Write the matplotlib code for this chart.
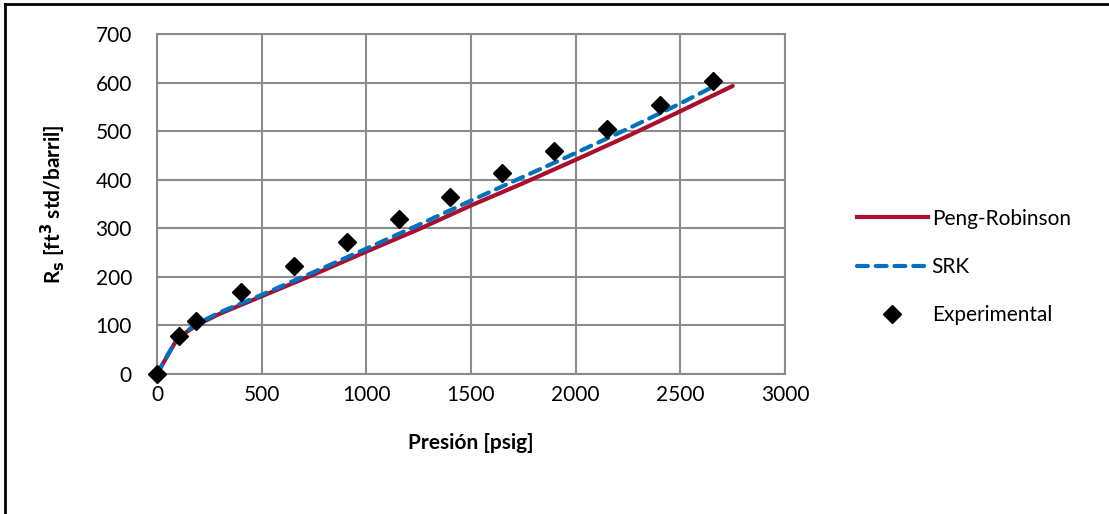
import matplotlib
matplotlib.use("Agg")
import matplotlib.pyplot as plt
from matplotlib.lines import Line2D

plt.rcParams['font.family'] = ['Lato', 'DejaVu Sans']

# Peng-Robinson model
pr_presion = [0, 100, 200, 300, 500, 750, 1000, 1250, 1500, 1750, 2000, 2250, 2500, 2750]
pr_rs = [0, 75, 103, 124, 160, 205, 252, 298, 347, 393, 441, 490, 541, 593]

# SRK model
srk_presion = [0, 100, 200, 300, 500, 750, 1000, 1250, 1500, 1750, 2000, 2250, 2500, 2650]
srk_rs = [0, 77, 105, 127, 163, 210, 258, 307, 357, 406, 455, 505, 557, 590]

# experimental data
exp_presion = [0, 105, 186, 400, 653, 906, 1154, 1402, 1650, 1898, 2150, 2403, 2656]
exp_rs = [0, 78, 109, 168, 222, 271, 320, 365, 413, 460, 505, 554, 604]

fig = plt.figure(figsize=(11.09, 5.14), dpi=100)
ax = fig.add_axes([157 / 1109, 1 - 374 / 514, 628 / 1109, 340 / 514])

grid_color = '#8c8c8c'
srk_dash = (0, (2.6, 1.9))
ax.plot(pr_presion, pr_rs, color='#A8102D', lw=3, solid_capstyle='round', label='Peng-Robinson', zorder=3)
ax.plot(srk_presion, srk_rs, color='#0070C0', lw=3, ls=srk_dash, dash_capstyle='round',
        label='SRK', zorder=4)
ax.plot(exp_presion, exp_rs, ls='none', marker='D', markersize=9.5, color='black',
        label='Experimental', zorder=5, clip_on=False)

ax.set_xlim(0, 3000)
ax.set_ylim(0, 700)
ax.set_xticks(range(0, 3001, 500))
ax.set_yticks(range(0, 701, 100))
ax.grid(True, color=grid_color, lw=1.5)
ax.set_axisbelow(True)
for s in ax.spines.values():
    s.set_color(grid_color)
    s.set_linewidth(1.5)
ax.tick_params(length=0, labelsize=15)
ax.tick_params(axis='y', pad=18)
ax.tick_params(axis='x', pad=8)

ax.set_xlabel('Presión [psig]', fontsize=15, fontweight='bold', labelpad=20)
ax.set_ylabel('R$_\\mathbf{s}$ [ft$^\\mathbf{3}$ std/barril]', fontsize=15, fontweight='bold', labelpad=20)

handles = [
    Line2D([], [], color='#A8102D', lw=3),
    Line2D([], [], color='#0070C0', lw=3, ls=srk_dash, dash_capstyle='round'),
    Line2D([], [], ls='none', marker='D', markersize=9.5, color='black'),
]
fig.legend(handles, ['Peng-Robinson', 'SRK', 'Experimental'], loc='upper left',
           bbox_to_anchor=(838 / 1109, 1 - 190 / 514), frameon=False, fontsize=15,
           handlelength=3.4, handletextpad=0.2, labelspacing=1.35)

# outer frame of the chart area
fig.add_artist(Line2D([5 / 1109, 5 / 1109], [0, 1 - 4 / 514], color='black', lw=2, transform=fig.transFigure))
fig.add_artist(Line2D([5 / 1109, 1], [1 - 4 / 514, 1 - 4 / 514], color='black', lw=2, transform=fig.transFigure))

fig.savefig('out.png', dpi=100)
